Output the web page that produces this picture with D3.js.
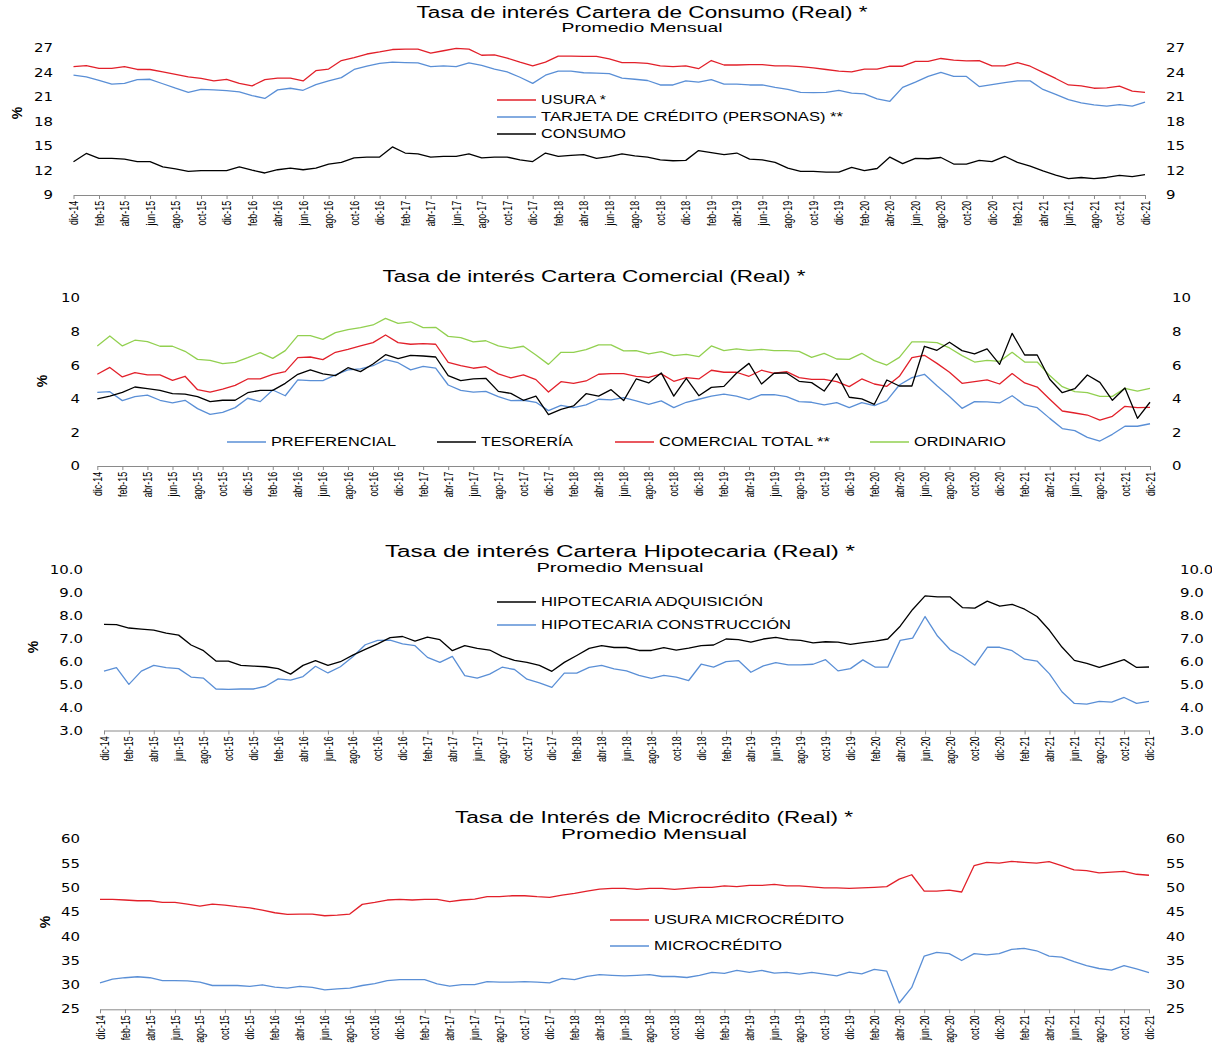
<!DOCTYPE html>
<html>
<head>
<meta charset="utf-8">
<script src="https://d3js.org/d3.v7.min.js"></script>
<style>
  body { margin: 0; background: #fff; }
  svg { display: block; background: #fff; }
  .title { font-family: "Liberation Sans", Arial, sans-serif; fill: #000; }
  .legend text { font-family: "Liberation Sans", Arial, sans-serif; font-size: 12px; fill: #000; }
  .yaxis text { font-family: "DejaVu Sans", Verdana, sans-serif; font-size: 11.5px; fill: #000; }
  .xaxis text { font-family: "Liberation Sans", Arial, sans-serif; font-size: 12px; fill: #000; }
  .pct { font-family: "Liberation Sans", Arial, sans-serif; font-size: 14px; font-weight: bold; }
</style>
</head>
<body>
<svg id="chart" width="1212" height="1043"></svg>
<script>
"use strict";

// meses dic-14 .. dic-21
var mesNombres = ["ene","feb","mar","abr","may","jun","jul","ago","sep","oct","nov","dic"];
var anios = ["15","16","17","18","19","20","21"];
var months = ["dic-14"];
anios.forEach(function (a) { mesNombres.forEach(function (m) { months.push(m + "-" + a); }); });
var tickLabels = months.filter(function (d, i) { return i % 2 === 0; });

// Cartera de consumo
var consumoUsura = [24.75,24.87,24.54,24.54,24.75,24.4,24.4,24.1,23.8,23.5,23.3,23.0,23.2,22.7,22.4,23.15,23.35,23.35,23.0,24.25,24.45,25.5,25.85,26.3,26.55,26.85,26.9,26.9,26.4,26.7,27.0,26.9,26.15,26.2,25.8,25.3,24.85,25.3,26.05,26.05,26.0,26.0,25.7,25.25,25.25,25.15,24.85,24.75,24.85,24.5,25.5,24.95,24.95,25.0,25.0,24.85,24.85,24.75,24.6,24.4,24.2,24.1,24.45,24.45,24.8,24.8,25.4,25.4,25.75,25.55,25.45,25.5,24.85,24.85,25.25,24.8,24.05,23.3,22.5,22.4,22.1,22.15,22.35,21.75,21.6];
var consumoTarjeta = [23.7,23.5,23.05,22.6,22.7,23.15,23.2,22.65,22.1,21.6,21.95,21.9,21.8,21.65,21.2,20.85,21.9,22.1,21.85,22.55,23.0,23.4,24.4,24.8,25.15,25.3,25.25,25.2,24.75,24.85,24.75,25.2,24.9,24.45,24.1,23.45,22.7,23.7,24.2,24.2,24.0,23.95,23.9,23.35,23.2,23.05,22.5,22.5,23.0,22.85,23.15,22.6,22.6,22.5,22.5,22.2,21.95,21.6,21.55,21.6,21.85,21.5,21.4,20.8,20.5,22.2,22.85,23.55,24.05,23.55,23.55,22.3,22.55,22.8,23.0,23.0,21.95,21.35,20.7,20.3,20.05,19.9,20.1,19.9,20.4];
var consumo = [13.07,14.1,13.5,13.5,13.4,13.1,13.1,12.45,12.2,11.9,12.0,12.0,12.0,12.45,12.05,11.7,12.1,12.3,12.1,12.3,12.8,13.0,13.55,13.65,13.65,14.9,14.15,14.05,13.65,13.75,13.75,14.05,13.55,13.65,13.65,13.3,13.1,14.15,13.75,13.85,13.95,13.5,13.7,14.05,13.8,13.65,13.3,13.2,13.25,14.45,14.2,13.95,14.15,13.4,13.3,13.0,12.3,11.9,11.9,11.8,11.8,12.4,12.0,12.25,13.65,12.85,13.5,13.45,13.6,12.8,12.8,13.25,13.1,13.75,13.0,12.55,11.95,11.45,11.0,11.15,11.0,11.15,11.4,11.25,11.5];

// Cartera comercial
var preferencial = [4.39,4.43,3.9,4.14,4.23,3.92,3.76,3.92,3.42,3.08,3.2,3.48,4.04,3.84,4.53,4.19,5.13,5.09,5.09,5.43,5.73,5.79,5.98,6.34,6.16,5.73,5.94,5.83,4.83,4.51,4.41,4.45,4.14,3.9,3.92,3.8,3.3,3.62,3.48,3.64,3.98,3.94,4.08,3.88,3.68,3.88,3.48,3.8,3.98,4.17,4.29,4.17,3.96,4.25,4.25,4.14,3.84,3.8,3.64,3.78,3.48,3.78,3.6,3.9,4.83,5.27,5.47,4.79,4.14,3.44,3.84,3.82,3.76,4.19,3.64,3.48,2.84,2.23,2.11,1.71,1.49,1.89,2.37,2.37,2.52];
var tesoreria = [4.0,4.16,4.39,4.71,4.61,4.51,4.31,4.29,4.14,3.84,3.92,3.92,4.37,4.51,4.51,4.93,5.47,5.73,5.49,5.39,5.86,5.63,6.08,6.64,6.4,6.6,6.56,6.5,5.39,5.09,5.19,5.23,4.45,4.33,3.92,4.16,3.06,3.38,3.58,4.31,4.17,4.55,3.9,5.19,4.95,5.55,4.17,5.23,4.19,4.69,4.75,5.53,6.12,4.89,5.53,5.55,5.05,4.97,4.47,5.51,4.1,4.0,3.68,5.13,4.77,4.77,7.14,6.9,7.38,6.88,6.68,6.98,6.06,7.91,6.62,6.62,5.17,4.37,4.61,5.43,4.99,3.92,4.65,2.84,3.8];
var comercialTotal = [5.47,5.88,5.31,5.57,5.43,5.43,5.11,5.35,4.55,4.41,4.59,4.81,5.19,5.19,5.47,5.63,6.46,6.5,6.34,6.78,6.96,7.16,7.36,7.81,7.36,7.26,7.3,7.26,6.18,5.98,5.83,5.92,5.49,5.25,5.43,5.15,4.41,5.03,4.93,5.07,5.47,5.51,5.51,5.35,5.29,5.49,5.05,5.27,5.19,5.71,5.59,5.59,5.35,5.71,5.53,5.63,5.27,5.17,5.17,5.03,4.73,5.19,4.89,4.75,5.35,6.46,6.6,6.12,5.59,4.93,5.03,5.13,4.89,5.51,4.95,4.71,3.98,3.28,3.16,3.04,2.74,2.96,3.56,3.48,3.5];
var ordinario = [7.16,7.75,7.16,7.5,7.42,7.14,7.14,6.84,6.36,6.3,6.1,6.18,6.46,6.76,6.42,6.88,7.77,7.77,7.55,7.95,8.13,8.25,8.41,8.8,8.5,8.6,8.25,8.27,7.73,7.65,7.4,7.47,7.16,7.02,7.14,6.62,6.06,6.78,6.78,6.94,7.22,7.22,6.86,6.88,6.68,6.82,6.58,6.66,6.52,7.16,6.88,6.98,6.9,6.96,6.88,6.88,6.84,6.48,6.72,6.38,6.36,6.72,6.28,6.02,6.48,7.4,7.4,7.36,7.04,6.58,6.2,6.3,6.24,6.78,6.2,6.2,5.39,4.73,4.43,4.37,4.15,4.15,4.63,4.47,4.63];

// Cartera hipotecaria
var hipAdquisicion = [7.63,7.62,7.47,7.42,7.38,7.25,7.16,6.73,6.48,6.03,6.03,5.84,5.81,5.78,5.7,5.46,5.84,6.05,5.84,6.0,6.29,6.54,6.78,7.05,7.1,6.9,7.07,6.96,6.48,6.7,6.58,6.51,6.23,6.06,5.97,5.84,5.58,5.97,6.27,6.58,6.7,6.62,6.62,6.49,6.49,6.61,6.51,6.59,6.7,6.73,6.99,6.96,6.85,6.99,7.06,6.96,6.93,6.82,6.87,6.85,6.76,6.83,6.9,6.99,7.55,8.28,8.87,8.83,8.83,8.36,8.34,8.64,8.42,8.5,8.29,7.97,7.37,6.64,6.06,5.93,5.75,5.92,6.09,5.75,5.77];
var hipConstruccion = [5.59,5.74,5.01,5.59,5.84,5.74,5.7,5.33,5.28,4.81,4.79,4.81,4.81,4.93,5.25,5.2,5.35,5.8,5.51,5.78,6.22,6.74,6.93,6.94,6.78,6.7,6.19,5.97,6.23,5.39,5.28,5.46,5.76,5.66,5.24,5.08,4.88,5.5,5.5,5.75,5.84,5.69,5.6,5.4,5.27,5.4,5.33,5.18,5.89,5.76,6.0,6.05,5.54,5.82,5.96,5.86,5.86,5.89,6.09,5.6,5.7,6.08,5.76,5.76,6.93,7.03,7.97,7.12,6.53,6.24,5.85,6.63,6.63,6.48,6.11,6.03,5.47,4.69,4.18,4.15,4.27,4.24,4.44,4.18,4.27];

// Microcredito
var usuraMicro = [47.63,47.63,47.5,47.35,47.35,47.0,47.0,46.67,46.25,46.67,46.46,46.12,45.9,45.4,44.88,44.54,44.6,44.6,44.26,44.4,44.6,46.6,47.0,47.5,47.63,47.5,47.63,47.63,47.15,47.5,47.7,48.18,48.18,48.38,48.38,48.18,48.04,48.52,48.87,49.35,49.76,49.9,49.9,49.7,49.9,49.9,49.7,49.9,50.1,50.1,50.4,50.25,50.5,50.5,50.7,50.4,50.4,50.2,50.0,50.0,49.9,50.0,50.1,50.25,51.8,52.7,49.35,49.35,49.55,49.15,54.6,55.25,55.1,55.45,55.25,55.1,55.4,54.6,53.7,53.55,53.1,53.25,53.4,52.8,52.6];
var microcredito = [30.45,31.2,31.5,31.7,31.5,30.9,30.9,30.85,30.6,29.9,29.9,29.9,29.7,30.05,29.55,29.35,29.7,29.5,29.0,29.2,29.35,29.9,30.3,30.9,31.1,31.1,31.1,30.25,29.75,30.1,30.1,30.7,30.6,30.6,30.7,30.6,30.45,31.35,31.1,31.8,32.15,32.0,31.9,32.0,32.15,31.75,31.75,31.55,32.0,32.6,32.4,33.0,32.6,33.0,32.45,32.6,32.25,32.6,32.25,31.9,32.65,32.3,33.2,32.85,26.3,29.5,35.95,36.7,36.45,35.05,36.45,36.2,36.45,37.35,37.55,37.05,35.95,35.75,34.8,34.0,33.4,33.05,34.0,33.3,32.55];

var yTicksConsumo = [9, 12, 15, 18, 21, 24, 27];
var yTicksComercial = [0, 2, 4, 6, 8, 10];
var yTicksHipotecaria = [3, 4, 5, 6, 7, 8, 9, 10];
var yTicksMicro = [25, 30, 35, 40, 45, 50, 55, 60];

var RED = "#e2202a", BLUE = "#5a8fd6", BLACK = "#000000", GREEN = "#92d050";

var panels = [
  {
    title: "Tasa de interés Cartera de Consumo (Real) *", tx: 642, ty: 18, tw: 451,
    sub: "Promedio Mensual", sy: 32, sw: 161, ss: 13,
    x0: 73.5, x1: 1145, yTop: 48.3, yBot: 195, domain: [9, 27], ticks: yTicksConsumo, fmt: d3.format("d"),
    leftX: 53, rightX: 1166, pctX: 17, pctY: 113,
    series: [
      { v: consumoTarjeta, c: BLUE, name: "TARJETA DE CRÉDITO (PERSONAS) **", lx: 497, ly: 117, w: 302 },
      { v: consumo, c: BLACK, name: "CONSUMO", lx: 497, ly: 134, w: 85 },
      { v: consumoUsura, c: RED, name: "USURA *", lx: 497, ly: 100, w: 65 }
    ]
  },
  {
    title: "Tasa de interés Cartera Comercial (Real) *", tx: 594, ty: 282, tw: 423,
    x0: 97.3, x1: 1150, yTop: 298.3, yBot: 466, domain: [0, 10], ticks: yTicksComercial, fmt: d3.format("d"),
    leftX: 80, rightX: 1172, pctX: 42, pctY: 381,
    series: [
      { v: ordinario, c: GREEN, name: "ORDINARIO", lx: 870, ly: 442, w: 92 },
      { v: preferencial, c: BLUE, name: "PREFERENCIAL", lx: 227, ly: 442, w: 125 },
      { v: comercialTotal, c: RED, name: "COMERCIAL TOTAL **", lx: 615, ly: 442, w: 171 },
      { v: tesoreria, c: BLACK, name: "TESORERÍA", lx: 437, ly: 442, w: 92 }
    ]
  },
  {
    title: "Tasa de interés Cartera Hipotecaria (Real) *", tx: 620, ty: 557, tw: 470,
    sub: "Promedio Mensual", sy: 572, sw: 167, ss: 13,
    x0: 104, x1: 1149, yTop: 570, yBot: 730.5, domain: [3, 10], ticks: yTicksHipotecaria, fmt: d3.format(".1f"),
    leftX: 83, rightX: 1180, pctX: 33, pctY: 647,
    series: [
      { v: hipConstruccion, c: BLUE, name: "HIPOTECARIA CONSTRUCCIÓN", lx: 497, ly: 625, w: 250 },
      { v: hipAdquisicion, c: BLACK, name: "HIPOTECARIA ADQUISICIÓN", lx: 497, ly: 602, w: 222 }
    ]
  },
  {
    title: "Tasa de Interés de Microcrédito (Real) *", tx: 654, ty: 823, tw: 398,
    sub: "Promedio Mensual", sy: 839, sw: 186, ss: 15,
    x0: 100, x1: 1149, yTop: 839.3, yBot: 1009.3, domain: [25, 60], ticks: yTicksMicro, fmt: d3.format("d"),
    leftX: 80, rightX: 1166, pctX: 45, pctY: 922,
    series: [
      { v: microcredito, c: BLUE, name: "MICROCRÉDITO", lx: 610, ly: 946, w: 128 },
      { v: usuraMicro, c: RED, name: "USURA MICROCRÉDITO", lx: 610, ly: 920, w: 190 }
    ]
  }
];

var svg = d3.select("#chart");

function drawPanel(p) {
  var x = d3.scalePoint().domain(months).range([p.x0, p.x1]);
  var y = d3.scaleLinear().domain(p.domain).range([p.yBot, p.yTop]);

  // titulos
  svg.append("text").attr("class", "title")
    .attr("x", p.tx).attr("y", p.ty)
    .attr("text-anchor", "middle")
    .style("font-size", "16px")
    .attr("textLength", p.tw).attr("lengthAdjust", "spacingAndGlyphs")
    .text(p.title);
  if (p.sub) {
    svg.append("text").attr("class", "title")
      .attr("x", p.tx).attr("y", p.sy)
      .attr("text-anchor", "middle")
      .style("font-size", p.ss + "px")
      .attr("textLength", p.sw).attr("lengthAdjust", "spacingAndGlyphs")
      .text(p.sub);
  }

  // eje x
  var gx = svg.append("g").attr("class", "xaxis")
    .attr("transform", "translate(0," + p.yBot + ")")
    .call(d3.axisBottom(x).tickValues(tickLabels).tickSize(4).tickSizeOuter(0));
  gx.select(".domain").attr("stroke", "#8a8a8a");
  gx.selectAll(".tick line").attr("stroke", "#8a8a8a");
  gx.selectAll(".tick text")
    .attr("transform", "rotate(-90) scale(0.74,1)")
    .attr("x", -8).attr("y", 0).attr("dy", "0.34em")
    .style("text-anchor", "end");

  // ejes y (izq. y der.)
  var gl = svg.append("g").attr("class", "yaxis")
    .attr("transform", "translate(" + p.leftX + ",0)")
    .call(d3.axisLeft(y).tickValues(p.ticks).tickFormat(p.fmt).tickSize(0).tickPadding(0));
  gl.select(".domain").remove();
  gl.selectAll(".tick text").attr("transform", "scale(1.3,1)");

  var gr = svg.append("g").attr("class", "yaxis")
    .attr("transform", "translate(" + p.rightX + ",0)")
    .call(d3.axisRight(y).tickValues(p.ticks).tickFormat(p.fmt).tickSize(0).tickPadding(0));
  gr.select(".domain").remove();
  gr.selectAll(".tick text").attr("transform", "scale(1.3,1)");

  svg.append("text").attr("class", "pct")
    .attr("transform", "translate(" + p.pctX + "," + p.pctY + ") rotate(-90)")
    .attr("text-anchor", "middle").attr("dy", "0.35em")
    .text("%");

  // series
  var line = d3.line()
    .x(function (d, i) { return x(months[i]); })
    .y(function (d) { return y(d); });

  p.series.forEach(function (s) {
    svg.append("path")
      .datum(s.v)
      .attr("fill", "none")
      .attr("stroke", s.c)
      .attr("stroke-width", 1.3)
      .attr("stroke-linejoin", "round")
      .attr("d", line);
  });

  // leyenda
  var lg = svg.append("g").attr("class", "legend");
  p.series.forEach(function (s) {
    lg.append("line")
      .attr("x1", s.lx).attr("x2", s.lx + 39)
      .attr("y1", s.ly).attr("y2", s.ly)
      .attr("stroke", s.c).attr("stroke-width", 1.5);
    lg.append("text")
      .attr("x", s.lx + 44).attr("y", s.ly).attr("dy", "0.36em")
      .attr("textLength", s.w).attr("lengthAdjust", "spacingAndGlyphs")
      .text(s.name);
  });
}

panels.forEach(drawPanel);
</script>
</body>
</html>
